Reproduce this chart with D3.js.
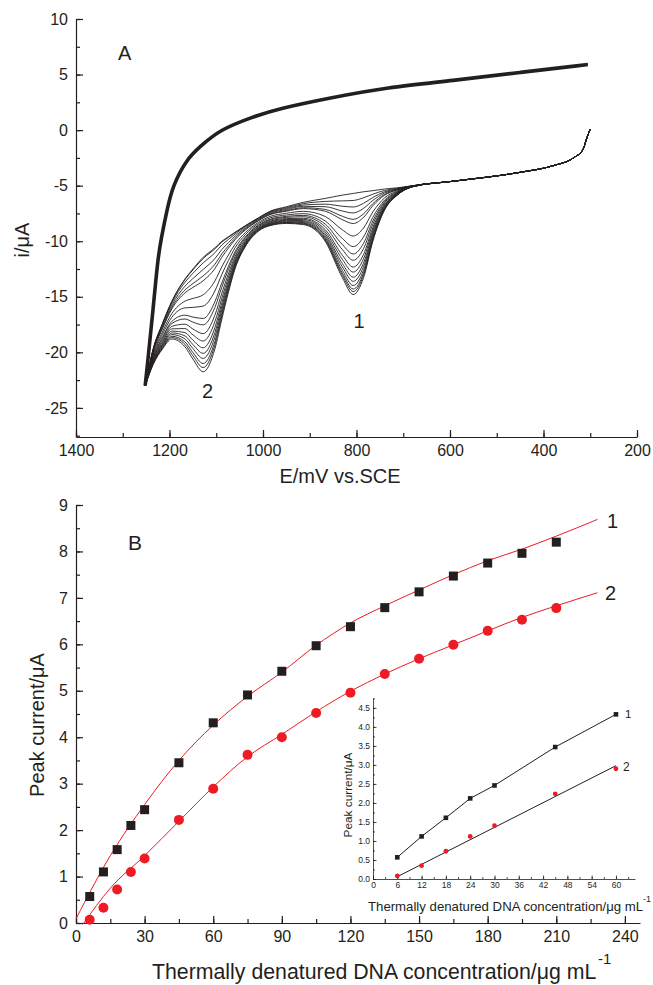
<!DOCTYPE html>
<html>
<head>
<meta charset="utf-8">
<script src="https://cdn.jsdelivr.net/npm/d3@7"></script>
<style>
body { margin: 0; background: #fff; }
svg text { font-family: "Liberation Sans", Arial, sans-serif; fill: #231f20; }
</style>
</head>
<body>
<svg id="chart" width="653" height="985"></svg>
<script>
// ---------- panel A : voltammograms ----------
// cathodic sweep, potentials in mV
let potCath = [300, 308, 315, 336, 379, 450, 593, 680, 714, 740, 765, 785, 807, 830, 867, 914,
               950, 985, 1010, 1038, 1060, 1074, 1088, 1103, 1128, 1150, 1167, 1195, 1215, 1235, 1252];
// top (blank) curve, uA
let blankCath = [0.1, -0.8, -1.7, -2.5, -3.2, -3.8, -4.6, -5.0, -5.2, -5.3, -5.45, -5.55, -5.7, -5.85, -6.15, -6.5,
                 -6.9, -7.3, -7.9, -8.6, -9.2, -9.6, -10.0, -10.6, -11.45, -12.5, -13.4, -15.4, -17.4, -19.7, -23.0];
// deepest curve minus blank, split into peak 1 and peak 2
let peak1Depth = [0, 0, 0, 0, 0, 0, 0, -0.1, -0.7, -1.9, -4.55, -7.75, -9.1, -7.45, -3.85, -1.7,
                  -1.0, -0.5, -0.2, -0.1, 0, 0, 0, 0, 0, 0, 0, 0, 0, 0, 0];
let peak2Depth = [0, 0, 0, 0, 0, 0, 0, 0, 0, 0, 0, 0, 0, 0, 0, -0.3,
                  -0.5, -0.8, -1.0, -1.8, -3.3, -5.0, -7.0, -9.1, -10.3, -8.1, -6.1, -3.4, -2.3, -1.4, 0];
// anodic return sweep (the thick band)
let potAnod = [1252, 1246, 1235, 1225, 1218, 1205, 1193, 1163, 1135, 1092, 1021, 970, 857, 735, 594, 450, 305];
let curAnod = [-23.0, -20.6, -16.1, -11.6, -9.8, -7.1, -5.0, -2.6, -1.5, 0.05, 1.2, 1.9, 2.9, 3.85, 4.45, 5.2, 5.9];

// ---------- panel B : peak current vs concentration ----------
let conc = [6, 12, 18, 24, 30, 45, 60, 75, 90, 105, 120, 135, 150, 165, 180, 195, 210];
let peak1 = [0.57, 1.1, 1.58, 2.1, 2.44, 3.45, 4.31, 4.91, 5.42, 5.97, 6.38, 6.79, 7.13, 7.47, 7.75, 7.96, 8.2];
let peak2 = [0.07, 0.33, 0.72, 1.1, 1.39, 2.22, 2.89, 3.62, 4.0, 4.52, 4.96, 5.36, 5.69, 5.99, 6.29, 6.53, 6.78];
let fitConc1 = [0, 15, 30, 45, 60, 75, 90, 105, 120, 135, 150, 165, 180, 195, 210, 228];
let fit1 = [0.09, 1.45, 2.55, 3.5, 4.26, 4.88, 5.4, 5.98, 6.46, 6.83, 7.17, 7.5, 7.8, 8.05, 8.33, 8.69];
let fitConc2 = [3, 15, 30, 45, 60, 75, 90, 105, 120, 135, 150, 165, 180, 195, 210, 228];
let fit2 = [-0.03, 0.75, 1.45, 2.19, 2.93, 3.58, 4.06, 4.55, 4.99, 5.36, 5.69, 5.99, 6.29, 6.58, 6.83, 7.11];

// inset
let insConc = [6, 12, 18, 24, 30, 45, 60];
let ins1 = [0.57, 1.12, 1.61, 2.12, 2.46, 3.47, 4.33];
let ins2 = [0.08, 0.35, 0.73, 1.12, 1.40, 2.24, 2.90];
let insFit2Conc = [6, 60];
let insFit2 = [0.06, 2.98];

let ink = "#231f20";
let red = "#ed1c24";

let svg = d3.select("#chart");
svg.append("rect").attr("width", 653).attr("height", 985).attr("fill", "#fff");

// axis with inward ticks, major + minor
function drawAxis(orient, scale, pos, major, minor, o) {
    let make = orient === "left" ? d3.axisLeft : d3.axisBottom;
    let tr = orient === "left" ? `translate(${pos},0)` : `translate(0,${pos})`;
    let gm = svg.append("g").attr("transform", tr)
        .call(make(scale).tickValues(minor).tickSizeInner(-o.minLen).tickSizeOuter(0).tickFormat(""));
    gm.select(".domain").remove();
    gm.selectAll("line").attr("stroke", ink).attr("stroke-width", o.sw);
    let g = svg.append("g").attr("transform", tr)
        .call(make(scale).tickValues(major).tickSizeInner(-o.majLen).tickSizeOuter(0)
            .tickPadding(o.pad).tickFormat(o.fmt));
    g.attr("font-size", null).attr("font-family", null);
    g.select(".domain").attr("stroke", ink).attr("stroke-width", o.sw);
    g.selectAll("line").attr("stroke", ink).attr("stroke-width", o.sw);
    g.selectAll("text").style("font-size", o.fs + "px").attr("fill", o.color || ink);
    return g;
}

// ================= panel A =================
let xA = d3.scaleLinear().domain([1400, 200]).range([76, 637]);
let yA = d3.scaleLinear().domain([-27.62, 10]).range([437, 19]);

drawAxis("left", yA, 76, d3.range(-25, 10.1, 5), d3.range(-27.5, 10.1, 2.5),
    {majLen: 7, minLen: 4, pad: 8, fs: 16, sw: 1.2, fmt: d => String(d)});
drawAxis("bottom", xA, 437, d3.range(1400, 199, -200), d3.range(1400, 199, -100),
    {majLen: 7, minLen: 4, pad: 8, fs: 16, sw: 1.2, fmt: d => String(d)});

let scale1 = [0].concat(peak1);
let scale2 = [0].concat(peak2);
let max1 = d3.max(scale1), max2 = d3.max(scale2);

let cathLine = d3.line().x(d => xA(d[0])).y(d => yA(d[1])).curve(d3.curveMonotoneX);
let gA = svg.append("g");
scale1.forEach((s1, k) => {
    let pts = potCath.map((e, j) => [e, blankCath[j] + s1 / max1 * peak1Depth[j] + scale2[k] / max2 * peak2Depth[j]]);
    gA.append("path").attr("d", cathLine(pts))
        .attr("fill", "none").attr("stroke", ink).attr("stroke-width", 0.9);
});
let anodLine = d3.line().x(d => xA(d[0])).y(d => yA(d[1])).curve(d3.curveBasis);
gA.append("path").attr("d", anodLine(potAnod.map((e, j) => [e, curAnod[j]])))
    .attr("fill", "none").attr("stroke", ink).attr("stroke-width", 3.6);

svg.append("text").attr("x", 118).attr("y", 60).style("font-size", "20px").text("A");
svg.append("text").attr("x", 359).attr("y", 328).attr("text-anchor", "middle").style("font-size", "20px").text("1");
svg.append("text").attr("x", 207.5).attr("y", 398).attr("text-anchor", "middle").style("font-size", "20px").text("2");
svg.append("text").attr("x", 340).attr("y", 483).attr("text-anchor", "middle").style("font-size", "20px").text("E/mV vs.SCE");
svg.append("text").attr("transform", "translate(29,240) rotate(-90)").attr("text-anchor", "middle")
    .style("font-size", "20px").text("i/μA");

// ================= panel B =================
let xB = d3.scaleLinear().domain([0, 246.6]).range([76, 640]);
let yB = d3.scaleLinear().domain([0, 9]).range([923, 505]);

drawAxis("left", yB, 76, d3.range(0, 9.1, 1), d3.range(0, 9.1, 0.5),
    {majLen: 7, minLen: 4, pad: 8, fs: 16, sw: 1.2, fmt: d => String(d)});
drawAxis("bottom", xB, 923, d3.range(0, 241, 30), d3.range(0, 246, 15),
    {majLen: 7, minLen: 4, pad: 8, fs: 16, sw: 1.2, fmt: d => String(d)});

let fitLine = d3.line().x(d => xB(d[0])).y(d => yB(d[1])).curve(d3.curveMonotoneX);
svg.append("path").attr("d", fitLine(fitConc1.map((c, i) => [c, fit1[i]])))
    .attr("fill", "none").attr("stroke", red).attr("stroke-width", 1);
svg.append("path").attr("d", fitLine(fitConc2.map((c, i) => [c, fit2[i]])))
    .attr("fill", "none").attr("stroke", red).attr("stroke-width", 1);

svg.append("g").selectAll("rect").data(conc).join("rect")
    .attr("x", (d, i) => xB(d) - 4.5).attr("y", (d, i) => yB(peak1[i]) - 4.5)
    .attr("width", 9).attr("height", 9).attr("fill", ink);
svg.append("g").selectAll("circle").data(conc).join("circle")
    .attr("cx", (d, i) => xB(d)).attr("cy", (d, i) => yB(peak2[i])).attr("r", 5).attr("fill", red);

svg.append("text").attr("x", 128).attr("y", 550).style("font-size", "21px").text("B");
svg.append("text").attr("x", 607).attr("y", 528).style("font-size", "20px").text("1");
svg.append("text").attr("x", 605).attr("y", 600).style("font-size", "20px").text("2");
svg.append("text").attr("x", 152).attr("y", 979).style("font-size", "21.3px")
    .text("Thermally denatured DNA concentration/μg mL");
svg.append("text").attr("x", 598).attr("y", 964).style("font-size", "15px").text("-1");
svg.append("text").attr("transform", "translate(44,725) rotate(-90)").attr("text-anchor", "middle")
    .style("font-size", "20px").text("Peak current/μA");

// ================= inset =================
let xI = d3.scaleLinear().domain([0, 64.7]).range([373, 635]);
let yI = d3.scaleLinear().domain([0, 4.76]).range([879, 698]);

drawAxis("left", yI, 373, d3.range(0, 4.6, 0.5), d3.range(0, 4.76, 0.25),
    {majLen: 3.5, minLen: 2, pad: 3, fs: 8.5, sw: 0.8, color: "#333", fmt: d3.format(".1f")});
drawAxis("bottom", xI, 879, d3.range(0, 61, 6), d3.range(0, 64, 3),
    {majLen: 3.5, minLen: 2, pad: 3, fs: 8.5, sw: 0.8, color: "#333", fmt: d => String(d)});

let insLine = d3.line().x(d => xI(d[0])).y(d => yI(d[1]));
svg.append("path").attr("d", insLine(insConc.map((c, i) => [c, ins1[i]])))
    .attr("fill", "none").attr("stroke", ink).attr("stroke-width", 1);
svg.append("path").attr("d", insLine(insFit2Conc.map((c, i) => [c, insFit2[i]])))
    .attr("fill", "none").attr("stroke", ink).attr("stroke-width", 1);
svg.append("g").selectAll("rect").data(insConc).join("rect")
    .attr("x", d => xI(d) - 2.3).attr("y", (d, i) => yI(ins1[i]) - 2.3)
    .attr("width", 4.6).attr("height", 4.6).attr("fill", ink);
svg.append("g").selectAll("circle").data(insConc).join("circle")
    .attr("cx", d => xI(d)).attr("cy", (d, i) => yI(ins2[i])).attr("r", 2.4).attr("fill", red);

svg.append("text").attr("x", 625).attr("y", 718).style("font-size", "11.5px").text("1");
svg.append("text").attr("x", 623).attr("y", 771).style("font-size", "12px").text("2");
svg.append("text").attr("x", 368).attr("y", 911).style("font-size", "13.2px")
    .text("Thermally denatured DNA concentration/μg mL");
svg.append("text").attr("x", 643).attr("y", 902).style("font-size", "9px").text("-1");
svg.append("text").attr("transform", "translate(352,795) rotate(-90)").attr("text-anchor", "middle")
    .style("font-size", "11.8px").text("Peak current/μA");
</script>
</body>
</html>
